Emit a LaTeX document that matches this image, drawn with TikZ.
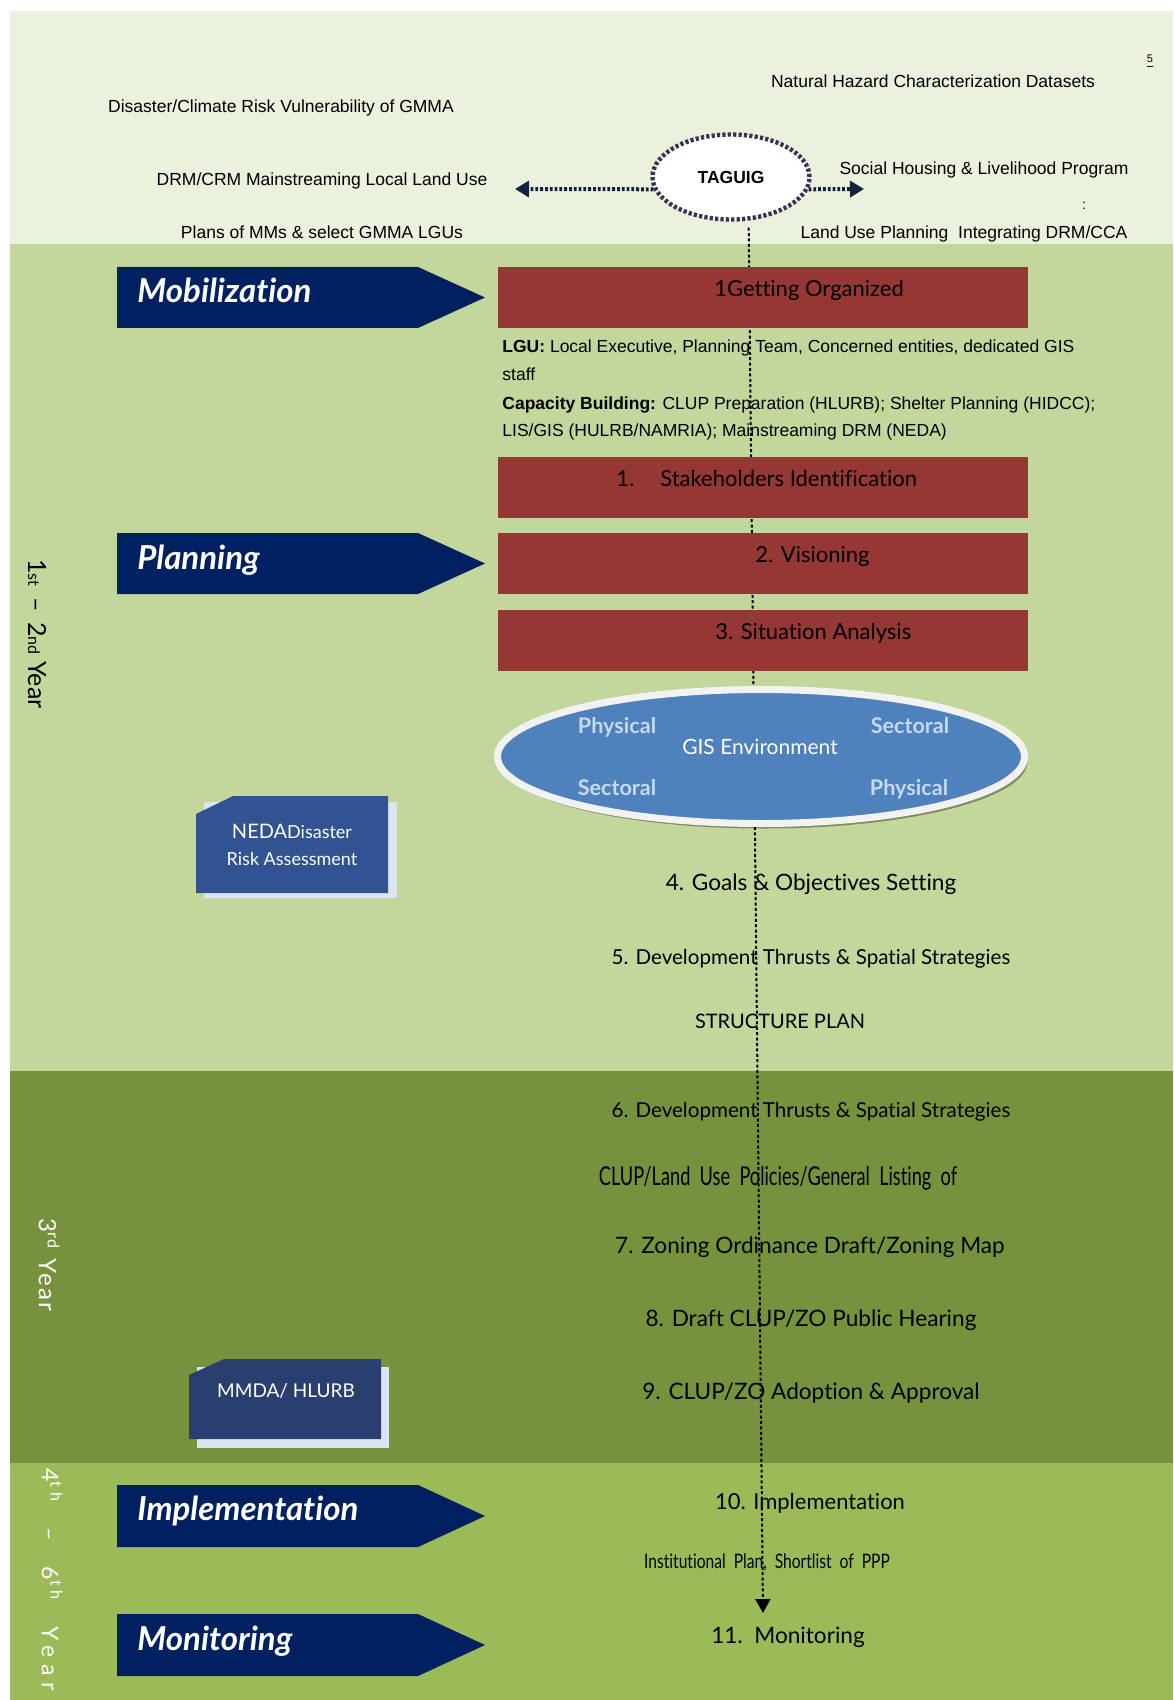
\documentclass[tikz,border=0pt]{standalone}
\usepackage{fontspec}
\setmainfont{Liberation Sans}
\newfontfamily\gill{Lato}[Ligatures=NoCommon]
\newfontfamily\gillsp{Lato}[LetterSpace=30]
\newfontfamily\gillspb{Lato}[LetterSpace=10]
\usetikzlibrary{arrows.meta,shapes.geometric,shadows}
\definecolor{bandA}{HTML}{EAF1DD}
\definecolor{bandB}{HTML}{C3D69B}
\definecolor{bandC}{HTML}{76923C}
\definecolor{bandD}{HTML}{9BBB59}
\definecolor{redbox}{HTML}{953735}
\definecolor{navy}{HTML}{002060}
\definecolor{nedablue}{HTML}{315391}
\definecolor{mmdablue}{HTML}{293F70}
\definecolor{shadowblue}{HTML}{DBE5F1}
\definecolor{gisblue}{HTML}{4F81BD}
\definecolor{gisrim}{HTML}{F2F2F2}
\definecolor{gislight}{HTML}{C6D9F1}
\definecolor{taguigborder}{HTML}{3F3151}
\definecolor{arrownavy}{HTML}{0F243E}
\tikzset{
  arialtxt/.style={anchor=base, inner sep=0pt, font=\fontsize{8.75}{10}\selectfont},
  lgutxt/.style={anchor=base west, inner sep=0pt, font=\fontsize{8.75}{10}\selectfont},
  taguignode/.style={ellipse, draw=taguigborder, fill=white, line width=2.2pt,
    dash pattern=on 1.6pt off 1.1pt, minimum width=78.5pt, minimum height=42.5pt,
    inner sep=0pt, font=\bfseries\fontsize{8.75}{10}\selectfont},
  tagarrow/.style={draw=arrownavy, line width=2pt, dash pattern=on 1.4pt off 1pt,
    -{Triangle[length=7pt,width=8pt]}},
  vline/.style={line width=1pt, dash pattern=on 1.5pt off 1.2pt,
    -{Triangle[length=7pt,width=7.5pt]}, shorten <=3.5pt},
  chevtxt/.style={anchor=base west, inner sep=0pt, text=white,
    font=\gill\bfseries\itshape\fontsize{16.5}{19}\selectfont},
  rbox/.style={fill=redbox, minimum width=265pt, minimum height=30.5pt, inner sep=0pt},
  steptxt/.style={anchor=base west, inner sep=0pt, font=\gill\fontsize{11}{13}\selectfont},
  stepc/.style={anchor=base, inner sep=0pt, font=\gill\fontsize{11.3}{13}\selectfont},
  gisnode/.style={ellipse, fill=gisblue, draw=gisrim, line width=3.5pt,
    minimum width=263.5pt, minimum height=67pt, inner sep=0pt,
    drop shadow={shadow xshift=1.5pt, shadow yshift=-2.5pt, fill=black, opacity=0.35}},
  gislbl/.style={anchor=base, inner sep=0pt, text=gislight,
    font=\gill\bfseries\fontsize{10.8}{12}\selectfont},
  boxtxt/.style={anchor=base, inner sep=0pt, text=white, font=\gill\fontsize{9}{11}\selectfont},
  yeartxt/.style={rotate=-90, inner sep=0pt}
}
\begin{document}
\begin{tikzpicture}[x=0.5pt,y=-0.5pt]
\useasboundingbox (0,0) rectangle (1173,1700);
\fill[white] (0,0) rectangle (1173,1700);
\fill[bandA] (10,11) rectangle (1173,244);
\fill[bandB] (10,244) rectangle (1173,1071);
\fill[bandC] (10,1071) rectangle (1173,1463);
\fill[bandD] (10,1463) rectangle (1173,1700);

% top band texts
\node[arialtxt] (dis) at (281,113) {Disaster/Climate Risk Vulnerability of GMMA};
\node[arialtxt] (drm) at (322,186) {DRM/CRM Mainstreaming Local Land Use};
\node[arialtxt] (plans) at (322,239) {Plans of MMs \& select GMMA LGUs};
\node[arialtxt] (nat) at (933,88) {Natural Hazard Characterization Datasets};
\node[arialtxt] (soc) at (984,175) {Social Housing \& Livelihood Program};
\node[arialtxt] (land) at (964,239) {Land Use Planning\ \ Integrating DRM/CCA};
\node[anchor=base, inner sep=0pt, font=\fontsize{7}{8}\selectfont] (col) at (1084,210) {:};
\node[anchor=base, inner sep=0pt, font=\fontsize{5.5}{6}\selectfont] (pg) at (1150,63) {\underline{5}};

% TAGUIG
\node[taguignode] (taguig) at (731,177) {TAGUIG};
\coordinate (larr) at (515,189);
\coordinate (rarr) at (864,189);
\draw[tagarrow] (taguig.189) -- (larr);
\draw[tagarrow] (taguig.351) -- (rarr);

% vertical flow line
\coordinate (vend) at (763,1613);
\draw[vline] (taguig.292) -- (vend);

% chevrons
\fill[navy] (117,267) -- (418,267) -- (485,297.5) -- (418,328) -- (117,328) -- cycle;
\node[chevtxt] (mob) at (137,303) {Mobilization};
\fill[navy] (117,533) -- (418,533) -- (485,563.5) -- (418,594) -- (117,594) -- cycle;
\node[chevtxt] (plan) at (137,569) {Planning};
\fill[navy] (117,1485) -- (418,1485) -- (485,1516) -- (418,1547) -- (117,1547) -- cycle;
\node[chevtxt] (impl) at (137,1520) {Implementation};
\fill[navy] (117,1614) -- (418,1614) -- (485,1645) -- (418,1676) -- (117,1676) -- cycle;
\node[chevtxt] (moni) at (137,1650) {Monitoring};

% red boxes
\node[rbox] (b0) at (763,297.5) {};
\node[rbox] (b1) at (763,487.5) {};
\node[rbox] (b2) at (763,563.5) {};
\node[rbox] (b3) at (763,640.5) {};
\node[steptxt] (t0) at (714,297) {1Getting Organized};
\node[steptxt] (t1) at (616,487) {1.\hspace{13pt}Stakeholders Identification};
\node[steptxt] (t2) at (755,562) {2. Visioning};
\node[steptxt] (t3) at (715,639) {3. Situation Analysis};

% LGU text
\node[lgutxt] (lgu1) at (502,353) {\textbf{LGU:} Local Executive, Planning Team, Concerned entities, dedicated GIS};
\node[lgutxt] (lgu2) at (502,381) {staff};
\node[lgutxt] (cap1) at (502,409) {\textbf{Capacity Building:} CLUP Preparation (HLURB); Shelter Planning (HIDCC);};
\node[lgutxt] (cap2) at (502,437) {LIS/GIS (HULRB/NAMRIA); Mainstreaming DRM (NEDA)};

% GIS ellipse
\node[gisnode] (gis) at (761,756.5) {};
\node[gislbl] (p1) at (617,733) {Physical};
\node[gislbl] (s1) at (910,733) {Sectoral};
\node[gislbl] (s2) at (617,795) {Sectoral};
\node[gislbl] (p2) at (909,795) {Physical};
\node[anchor=base, inner sep=0pt, text=white, font=\gill\fontsize{10.5}{12}\selectfont] (gisenv) at (760,754) {GIS Environment};

% NEDA box
\fill[shadowblue] (204,802) rectangle (397,898);
\fill[nedablue] (196,814) -- (233,796) -- (388,796) -- (388,893) -- (196,893) -- cycle;
\node[boxtxt] (neda1) at (292,838) {{\fontsize{10}{12}\selectfont NEDA}Disaster};
\node[boxtxt] (neda2) at (292,865) {Risk Assessment};

% MMDA box
\fill[shadowblue] (197,1367) rectangle (389,1448);
\fill[mmdablue] (189,1375) -- (224,1359) -- (381,1359) -- (381,1439) -- (189,1439) -- cycle;
\node[boxtxt, font=\gill\fontsize{9.5}{11}\selectfont] (mmda) at (286,1397) {MMDA/ HLURB};

% step texts
\node[stepc] (g4) at (811,890) {4. Goals \& Objectives Setting};
\node[stepc, font=\gill\fontsize{10.3}{12}\selectfont] (g5) at (811,964) {5. Development Thrusts \& Spatial Strategies};
\node[stepc, font=\gill\fontsize{10}{12}\selectfont] (struct) at (780,1028) {STRUCTURE PLAN};
\node[stepc, font=\gill\fontsize{10.3}{12}\selectfont] (g6) at (811,1117) {6. Development Thrusts \& Spatial Strategies};
\node[stepc] (clup) at (778,1185) {\scalebox{0.70}[1]{\fontsize{13}{15}\selectfont CLUP/Land\ \ Use\ \ Policies/General\ \ Listing\ \ of}};
\node[stepc] (g7) at (810,1253) {7. Zoning Ordinance Draft/Zoning Map};
\node[stepc] (g8) at (811,1326) {8. Draft CLUP/ZO Public Hearing};
\node[stepc] (g9) at (811,1399) {9. CLUP/ZO Adoption \& Approval};
\node[stepc, font=\gill\fontsize{11}{13}\selectfont] (g10) at (810,1509) {10. Implementation};
\node[stepc] (inst) at (767,1568) {\scalebox{0.78}[1]{\fontsize{10}{12}\selectfont Institutional\ \ Plan,\ \ Shortlist\ \ of\ \ PPP}};
\node[stepc] (g11) at (788,1643) {11.\ \ Monitoring};

% year labels
\node[yeartxt, font=\gill\fontsize{12.5}{14}\selectfont] (y12) at (37,634)
  {1{\fontsize{8}{10}\selectfont st} \,–\, 2{\fontsize{8}{10}\selectfont nd} Year};
\node[yeartxt, text=white, font=\gillspb\fontsize{12}{14}\selectfont] (y3) at (49,1265)
  {3\textsuperscript{rd} Year};
\node[yeartxt, anchor=west, text=white, font=\gillsp\fontsize{11.5}{14}\selectfont] (y46) at (52,1468)
  {4\textsuperscript{th}\ \ –\ \ 6\textsuperscript{th}\ \ Year};
\end{tikzpicture}
\end{document}
